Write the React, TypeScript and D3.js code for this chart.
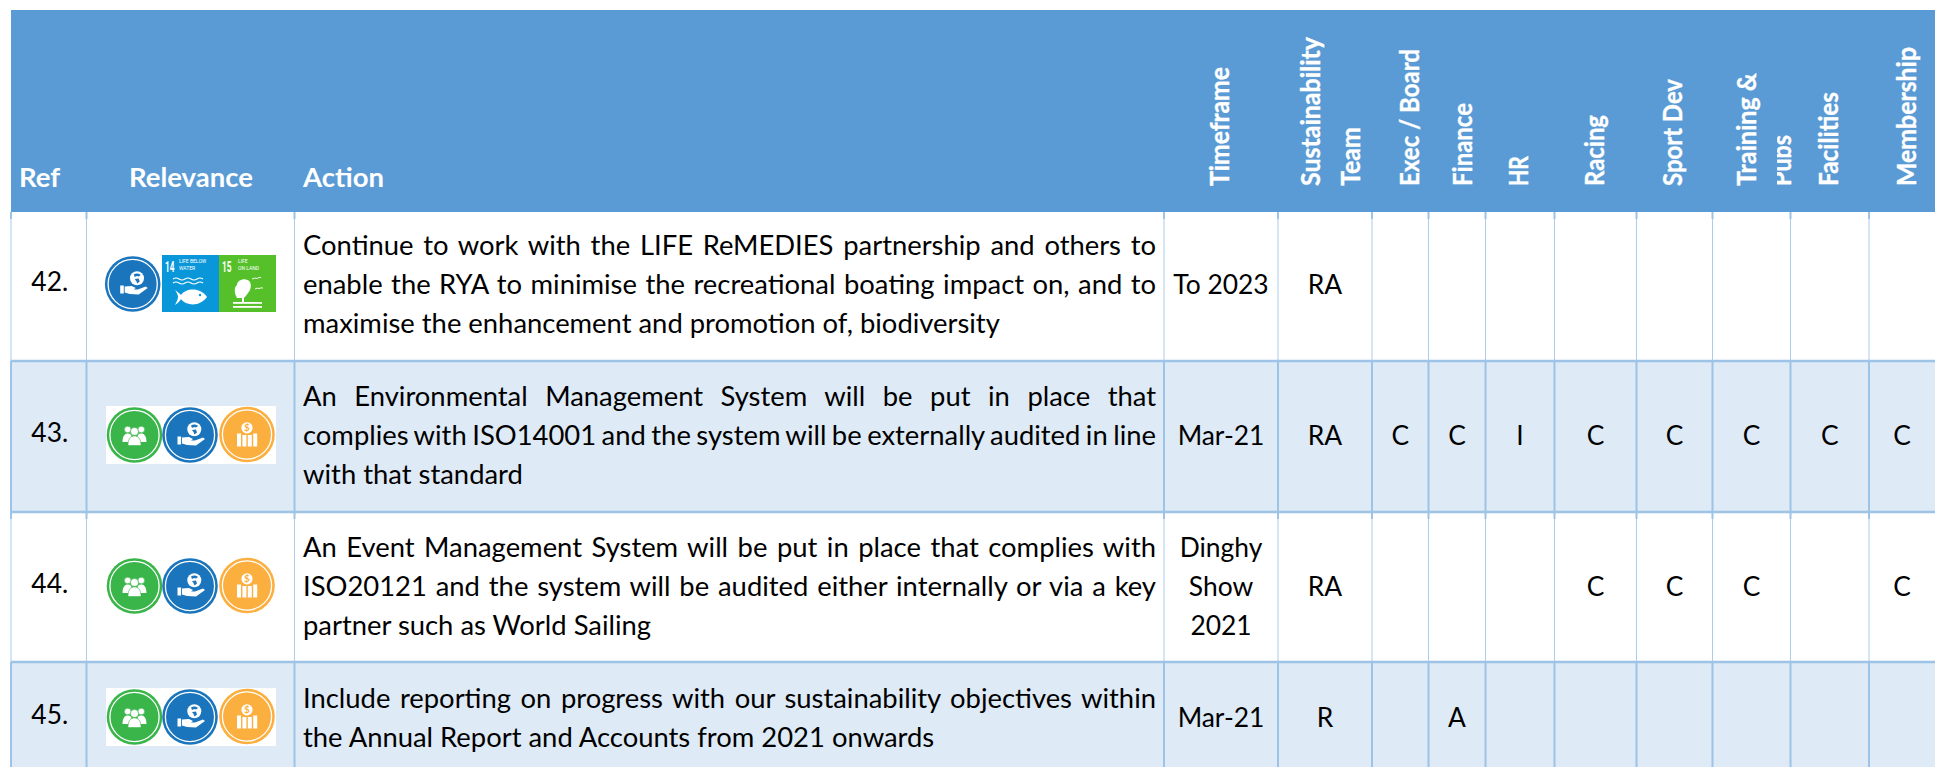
import React, { useEffect, useRef } from "react";
import * as d3 from "d3";

// table content
const refs = ["42.", "43.", "44.", "45."];
const actions = [
  [
    "Continue to work with the LIFE ReMEDIES partnership and others to",
    "enable the RYA to minimise the recreational boating impact on, and to",
    "maximise the enhancement and promotion of, biodiversity",
  ],
  [
    "An Environmental Management System will be put in place that",
    "complies with ISO14001 and the system will be externally audited in line",
    "with that standard",
  ],
  [
    "An Event Management System will be put in place that complies with",
    "ISO20121 and the system will be audited either internally or via a key",
    "partner such as World Sailing",
  ],
  [
    "Include reporting on progress with our sustainability objectives within",
    "the Annual Report and Accounts from 2021 onwards",
  ],
];
const timeframes = [["To 2023"], ["Mar-21"], ["Dinghy", "Show", "2021"], ["Mar-21"]];
const roleColumns = ["team", "exec", "finance", "hr", "racing", "sport", "training", "facilities", "membership"];
const roles = [
  ["RA", "", "", "", "", "", "", "", ""],
  ["RA", "C", "C", "I", "C", "C", "C", "C", "C"],
  ["RA", "", "", "", "C", "C", "C", "", "C"],
  ["R", "", "A", "", "", "", "", "", ""],
];
const plainHeaders = ["Ref", "Relevance", "Action"];
const rotatedHeaders = [
  "Timeframe", "Sustainability", "Team", "Exec / Board", "Finance", "HR",
  "Racing", "Sport Dev", "Training &", "Pubs", "Facilities", "Membership",
];
const rowIcons = [["blue", "14", "15"], ["green", "blue", "orange"], ["green", "blue", "orange"], ["green", "blue", "orange"]];

// layout
const columnKeys = ["ref", "relevance", "action", "timeframe", ...roleColumns];
const columnEdges = [11, 86.5, 294.5, 1164, 1278, 1372, 1428.5, 1485.5, 1554.5, 1636.5, 1712.5, 1790.5, 1869, 1935];
const rowEdges = [212, 361, 512, 662, 767];
const rowMiddles = [294, 445, 596, 727];
const plainHeaderX = [19, 129, 303];
const rotatedX = [1229, 1320, 1360, 1419, 1472, 1528, 1604, 1682, 1756, 1791, 1838, 1916];
const rotatedLen = [119, 149, 59, 137, 83, 30, 71, 107, 113, 51, 94, 139];

const HEADER = "#5B9BD5";
const BAND = "#DEEAF6";
const GRID = "#9DC3E6";
const FONT = "Lato, Carlito, sans-serif";
const BODY_SIZE = 26.4;
const ACTION_SIZE = 27.4;
const LINE = 39;

const App = () => {
  const svgRef = useRef<SVGSVGElement | null>(null);

  useEffect(() => {
    const svg = d3.select(svgRef.current);
    svg.selectAll("*").remove();

    const x = d3.scaleOrdinal<string, number>().domain(columnKeys).range(columnEdges);
    const nextX = (key: string) => columnEdges[columnKeys.indexOf(key) + 1];
    const centre = (key: string) => (x(key) + nextX(key)) / 2;
    const y = d3.scaleOrdinal<string, number>().domain(refs).range(rowEdges);
    const nextY = (i: number) => rowEdges[i + 1];

    // header band
    svg.append("rect").attr("x", 11).attr("y", 10).attr("width", 1924).attr("height", 202).attr("fill", HEADER);

    // row bands
    svg.selectAll(".band")
      .data(refs)
      .enter()
      .append("rect")
      .attr("x", 11)
      .attr("y", d => y(d))
      .attr("width", 1924)
      .attr("height", (d, i) => nextY(i) - y(d))
      .attr("fill", (d, i) => (i % 2 ? BAND : "#fff"));

    // vertical rules, thin and pale on the white rows
    refs.forEach((ref, i) => {
      const white = i % 2 === 0;
      columnEdges.slice(0, -1).forEach(edge => {
        svg.append("line")
          .attr("x1", edge).attr("x2", edge)
          .attr("y1", y(ref)).attr("y2", nextY(i))
          .attr("stroke", GRID)
          .attr("stroke-width", white ? 1 : 2)
          .attr("stroke-opacity", white ? 0.85 : 1);
        if (white) {
          svg.append("line")
            .attr("x1", edge).attr("x2", edge)
            .attr("y1", y(ref)).attr("y2", y(ref) + 7)
            .attr("stroke", GRID)
            .attr("stroke-width", 2);
        }
      });
    });

    // horizontal rules
    rowEdges.slice(1, -1).forEach(edge => {
      svg.append("line")
        .attr("x1", 11).attr("x2", 1935)
        .attr("y1", edge).attr("y2", edge)
        .attr("stroke", GRID)
        .attr("stroke-width", 2.5);
    });

    // plain headers
    svg.selectAll(".plain")
      .data(plainHeaders)
      .enter()
      .append("text")
      .attr("x", (d, i) => plainHeaderX[i])
      .attr("y", 187)
      .attr("font-family", FONT)
      .attr("font-weight", 700)
      .attr("font-size", 27.5)
      .attr("fill", "#fff")
      .text(d => d);

    // rotated headers, squeezed to the length seen in the picture
    const defs = svg.append("defs");
    defs.append("clipPath").attr("id", "pubs-clip")
      .append("rect").attr("x", 1777).attr("y", 100).attr("width", 20).attr("height", 100);
    rotatedHeaders.forEach((label, i) => {
      const g = svg.append("g");
      if (label === "Pubs") g.attr("clip-path", "url(#pubs-clip)");
      g.append("text")
        .attr("transform", `translate(${rotatedX[i]},186) rotate(-90)`)
        .attr("font-family", FONT)
        .attr("font-weight", 700)
        .attr("font-size", 27)
        .attr("fill", "#fff")
        .attr("stroke", "#fff")
        .attr("stroke-width", 0.35)
        .attr("textLength", rotatedLen[i])
        .attr("lengthAdjust", "spacingAndGlyphs")
        .text(label);
    });

    const bodyText = (sel: any, size = BODY_SIZE) =>
      sel.attr("font-family", FONT).attr("font-size", size).attr("fill", "#000");

    refs.forEach((ref, i) => {
      const mid = rowMiddles[i];

      bodyText(svg.append("text"))
        .attr("x", centre("ref") + 1)
        .attr("y", mid - 3)
        .attr("text-anchor", "middle")
        .text(ref);

      // action text, justified except for the last line of each cell
      const lines = actions[i];
      lines.forEach((line, l) => {
        const t = bodyText(svg.append("text"), ACTION_SIZE)
          .attr("x", 303)
          .attr("y", mid + (l - (lines.length - 1) / 2) * LINE)
          .text(line);
        if (l < lines.length - 1) {
          const len = (t.node() as SVGTextElement).getComputedTextLength();
          const gaps = line.split(" ").length - 1;
          t.attr("word-spacing", (853 - len) / gaps);
        }
      });

      const tf = timeframes[i];
      tf.forEach((line, l) => {
        bodyText(svg.append("text"))
          .attr("x", centre("timeframe"))
          .attr("y", mid + (l - (tf.length - 1) / 2) * LINE)
          .attr("text-anchor", "middle")
          .text(line);
      });

      roles[i].forEach((value, c) => {
        if (!value) return;
        bodyText(svg.append("text"))
          .attr("x", centre(roleColumns[c]))
          .attr("y", mid)
          .attr("text-anchor", "middle")
          .text(value);
      });

      drawIcons(svg, rowIcons[i], mid, i);
    });
  }, []);

  return (
    <svg
      ref={svgRef}
      width={1935}
      height={767}
      style={{ position: "absolute", left: 0, top: 0, display: "block", background: "#fff" }}
    />
  );
};

// the little goal badges in the Relevance column
function drawIcons(svg: any, icons: string[], mid: number, row: number) {
  const cy = mid - 10;
  if (icons[1] === "14") {
    badge(svg, "blue", 132.7, cy);
    tile14(svg.append("g").attr("transform", `translate(162,${cy - 29})`));
    tile15(svg.append("g").attr("transform", `translate(219,${cy - 29})`));
    return;
  }
  if (row === 1 || row === 3) {
    svg.append("rect").attr("x", 106).attr("y", cy - 29).attr("width", 170).attr("height", 58).attr("fill", "#fff");
  }
  badge(svg, "green", 134.5, cy);
  badge(svg, "blue", 190, cy);
  badge(svg, "orange", 247, cy - 0.5);
}

function badge(svg: any, kind: string, cx: number, cy: number) {
  const fill = kind === "green" ? "#3AB54A" : kind === "blue" ? "#1B75BC" : "#FBAF3F";
  const g = svg.append("g").attr("transform", `translate(${cx},${cy})`);
  g.append("circle").attr("r", 27.8).attr("fill", fill);
  g.append("circle").attr("r", 24.6).attr("fill", "none").attr("stroke", "#fff").attr("stroke-width", 1.3);
  if (kind === "green") {
    [[-6.8, -5.5, 3.3], [6.8, -5.5, 3.3], [0, -3.5, 4]].forEach(([x, y, r]) =>
      g.append("circle").attr("cx", x).attr("cy", y).attr("r", r).attr("fill", "#fff").attr("stroke", fill).attr("stroke-width", 0.6)
    );
    g.append("path").attr("fill", "#fff").attr("d", "M-12,7 C-12,0 -9,-1.5 -6.5,-1.5 C-4,-1.5 -3,0 -3,2 L3,2 C3,0 4,-1.5 6.5,-1.5 C9,-1.5 12,0 12,7 L6,7 L6,10 L-6,10 L-6,7 Z");
    g.append("path").attr("fill", "#fff").attr("stroke", fill).attr("stroke-width", 0.6).attr("d", "M-6.5,10.5 C-6.5,3 -3.5,1 0,1 C3.5,1 6.5,3 6.5,10.5 Z");
  } else if (kind === "blue") {
    g.append("circle").attr("cx", 4.3).attr("cy", -5.7).attr("r", 7).attr("fill", "#fff");
    g.append("path").attr("fill", fill).attr("d", "M1,-9.5 C3,-11 6,-11 8,-9 L6,-7.5 L4,-8 L2,-7 Z M2,-5 L6,-5.5 L7,-2.5 L4.5,-0.5 L3.5,-3 Z");
    g.append("rect").attr("x", -12.5).attr("y", 1.5).attr("width", 3.6).attr("height", 8).attr("fill", "#fff");
    g.append("path").attr("fill", "#fff").attr("d", "M-8,2.5 L-1,2 L3,4 L1,5.6 L5,5.6 L13,2.5 L15,4 L6,10.5 L-3,10 L-8,8.5 Z");
  } else {
    g.append("circle").attr("cy", -6.7).attr("r", 5.6).attr("fill", "#fff");
    g.append("text").attr("y", -3.2).attr("text-anchor", "middle").attr("font-family", FONT).attr("font-weight", 700).attr("font-size", 10).attr("fill", fill).text("$");
    [[-10, 0], [-4.6, 1.5], [0.8, 1.5], [6.2, 0]].forEach(([x, top]) =>
      g.append("rect").attr("x", x).attr("y", top - 1).attr("width", 4).attr("height", 13 - top).attr("fill", "#fff")
    );
  }
}

function tileLabel(g: any, number: string, lines: string[], tx: number) {
  g.append("text").attr("x", 3).attr("y", 17).attr("font-family", "Roboto, sans-serif").attr("font-weight", 700)
    .attr("font-size", 15.5).attr("fill", "#fff").attr("textLength", 9.5).attr("lengthAdjust", "spacingAndGlyphs").text(number);
  lines.forEach((line, i) => {
    g.append("text").attr("x", tx).attr("y", 8 + i * 6.5).attr("font-family", "Roboto, sans-serif")
      .attr("font-size", 5).attr("fill", "#fff").text(line);
  });
}

function tile14(g: any) {
  g.append("rect").attr("width", 57).attr("height", 57).attr("fill", "#0A97D9");
  tileLabel(g, "14", ["LIFE BELOW", "WATER"], 17);
  [24, 28].forEach(y => {
    g.append("path").attr("fill", "none").attr("stroke", "#fff").attr("stroke-width", 1.2)
      .attr("d", `M11,${y} q3,-2 6,0 t6,0 t6,0 t6,0 t6,0`);
  });
  g.append("path").attr("fill", "#fff").attr("d", "M13,35 C16,37 18,39 19,40 C24,33 38,32 45,42 C38,52 24,51 19,44 C18,46 16,48 13,50 C15,46 16,44 16,42 C16,40 15,38 13,35 Z");
  g.append("circle").attr("cx", 38).attr("cy", 40).attr("r", 1.2).attr("fill", "#0A97D9");
}

function tile15(g: any) {
  g.append("rect").attr("width", 57).attr("height", 57).attr("fill", "#56C02B");
  tileLabel(g, "15", ["LIFE", "ON LAND"], 19);
  g.append("path").attr("fill", "#fff").attr("d", "M18,43 C15,38 15,32 18,30 C18,24 28,22 31,27 C33,31 31,36 29,38 C27,41 25,43 24,43 Z");
  g.append("rect").attr("x", 23).attr("y", 42).attr("width", 2).attr("height", 5).attr("fill", "#fff");
  [47, 51].forEach(y => g.append("rect").attr("x", 14).attr("y", y).attr("width", 29).attr("height", 1.8).attr("fill", "#fff"));
  ["M33,24 q3,-1.5 5,-0.5 q2,-1.5 4,-1", "M36,34 q2,-1.5 4,-0.5 q2,-1 4,-0.5"].forEach(d =>
    g.append("path").attr("fill", "none").attr("stroke", "#fff").attr("stroke-width", 0.9).attr("d", d)
  );
}

export default App;
